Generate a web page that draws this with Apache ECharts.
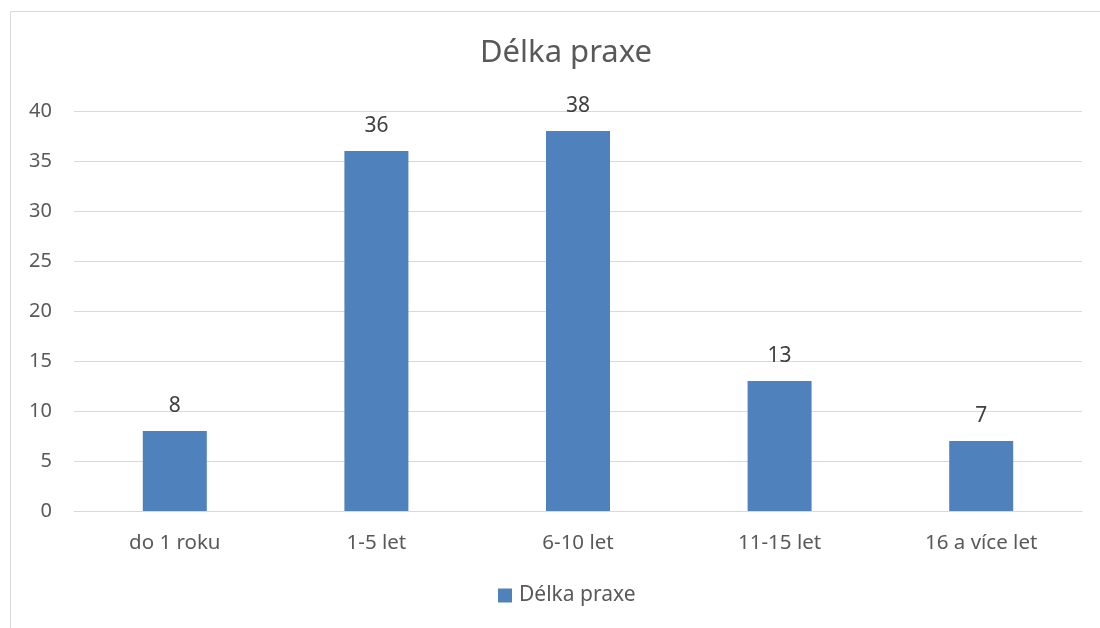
<!DOCTYPE html>
<html>
<head>
<meta charset="utf-8">
<script src="https://cdn.jsdelivr.net/npm/echarts@6/dist/echarts.min.js"></script>
<style>
  html, body { margin: 0; padding: 0; background: #fff; }
  #chart { width: 1100px; height: 628px; }
</style>
</head>
<body>
<div id="chart"></div>
<script>
const categories = ['do 1 roku', '1-5 let', '6-10 let', '11-15 let', '16 a více let']
const values = [8, 36, 38, 13, 7]
const seriesName = 'Délka praxe'

const textColor = '#595959'
const font = '"Noto Sans", sans-serif'

const myChart = echarts.init(document.getElementById('chart'))
const option = {
  backgroundColor: '#fff',
  animation: false,
  title: {
    text: 'Délka praxe',
    left: 561,
    top: 33,
    textAlign: 'center',
    textStyle: { color: textColor, fontSize: 31, fontWeight: 'normal', fontFamily: font }
  },
  // rámeček grafu
  graphic: [{
    type: 'rect',
    shape: { x: 10.5, y: 11.5, width: 1200, height: 700 },
    style: { fill: 'none', stroke: '#d9d9d9', lineWidth: 1 },
    silent: true
  }],
  legend: {
    data: [seriesName],
    top: 585,
    left: 498,
    padding: 0,
    icon: 'rect',
    itemWidth: 14,
    itemHeight: 14,
    textStyle: { color: textColor, fontSize: 21, fontFamily: font, padding: [0, 0, 0, 2] }
  },
  grid: { left: 74, right: 18, top: 111, bottom: 117, containLabel: false },
  xAxis: {
    type: 'category',
    data: categories,
    axisLine: { lineStyle: { color: '#d9d9d9' } },
    axisTick: { show: false },
    axisLabel: { color: textColor, fontSize: 20.5, fontFamily: font, margin: 22 }
  },
  yAxis: {
    type: 'value',
    min: 0,
    max: 40,
    interval: 5,
    axisLine: { show: false },
    axisTick: { show: false },
    splitLine: { lineStyle: { color: '#d9d9d9', width: 1 } },
    axisLabel: { color: textColor, fontSize: 20, fontFamily: font, margin: 22 }
  },
  series: [{
    name: seriesName,
    type: 'bar',
    data: values,
    barWidth: 64,
    itemStyle: { color: '#4f81bd' },
    label: {
      show: true,
      position: 'top',
      distance: 14,
      color: '#404040',
      fontSize: 21,
      fontFamily: font
    }
  }]
}
myChart.setOption(option)
</script>
</body>
</html>
